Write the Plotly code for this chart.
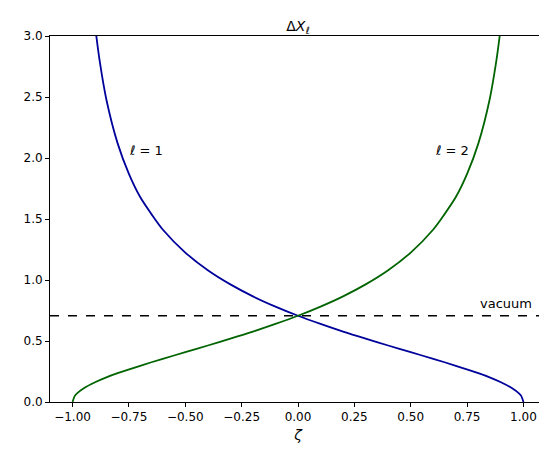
import plotly.graph_objects as go

zeta_blue = [-0.9, -0.88, -0.85, -0.8, -0.75, -0.7, -0.65, -0.6, -0.5, -0.4, -0.3, -0.2, -0.1, 0.0,
             0.1, 0.2, 0.3, 0.4, 0.5, 0.6, 0.7, 0.8, 0.85, 0.9, 0.95, 0.98, 0.99, 1.0]
dx_l1 = [3.08, 2.80, 2.48, 2.12, 1.87, 1.68, 1.54, 1.414, 1.225, 1.08, 0.964, 0.866, 0.782, 0.707,
         0.640, 0.577, 0.519, 0.463, 0.408, 0.354, 0.297, 0.236, 0.202, 0.162, 0.113, 0.071, 0.050, 0.0]
zeta_green = [-1.0, -0.99, -0.98, -0.95, -0.9, -0.85, -0.8, -0.7, -0.6, -0.5, -0.4, -0.3, -0.2,
              -0.1, 0.0, 0.1, 0.2, 0.3, 0.4, 0.5, 0.6, 0.65, 0.7, 0.75, 0.8, 0.85, 0.88, 0.9]
dx_l2 = [0.0, 0.050, 0.071, 0.113, 0.162, 0.202, 0.236, 0.297, 0.354, 0.408, 0.463, 0.519, 0.577,
         0.640, 0.707, 0.782, 0.866, 0.964, 1.08, 1.225, 1.414, 1.54, 1.68, 1.87, 2.12, 2.48, 2.80, 3.08]
vacuum = 0.707

fig = go.Figure()
fig.add_trace(go.Scatter(x=zeta_blue, y=dx_l1, mode="lines", line=dict(color="#00009b", width=1.8, shape="spline", smoothing=0.8)))
fig.add_trace(go.Scatter(x=zeta_green, y=dx_l2, mode="lines", line=dict(color="#006400", width=1.8, shape="spline", smoothing=0.8)))
fig.add_trace(go.Scatter(x=[-1.1, 1.1], y=[vacuum, vacuum], mode="lines", line=dict(color="black", width=1.6, dash="dash")))

ann = dict(showarrow=False, font=dict(size=13, color="black"), xanchor="left", yanchor="bottom")
fig.add_annotation(x=-0.76, y=1.98, text="<i>ℓ</i> = 1", **ann)
fig.add_annotation(x=0.6, y=1.98, text="<i>ℓ</i> = 2", **ann)
fig.add_annotation(x=0.8, y=0.73, text="vacuum", **ann)

axis = dict(showgrid=False, zeroline=False, showline=True, linecolor="black", mirror=True,
            ticks="outside", ticklen=4, tickcolor="black", tickfont=dict(size=12, color="black"))
fig.update_layout(
    width=547, height=460, showlegend=False, plot_bgcolor="white", paper_bgcolor="white",
    font=dict(family="DejaVu Sans", color="black"),
    margin=dict(l=42, r=9, t=28, b=66, autoexpand=False),
    title=dict(text="Δ<i>X</i><sub><i>ℓ</i></sub>", x=0.53, xanchor="center", y=0.96, yanchor="middle", font=dict(size=14)),
    xaxis=dict(range=[-1.1, 1.1], tickvals=[-1, -0.75, -0.5, -0.25, 0, 0.25, 0.5, 0.75, 1],
               ticktext=["−1.00", "−0.75", "−0.50", "−0.25", "0.00", "0.25", "0.50", "0.75", "1.00"],
               title=dict(text="<i>ζ</i>", font=dict(size=14), standoff=6), **axis),
    yaxis=dict(range=[0, 3], tickvals=[0, 0.5, 1, 1.5, 2, 2.5, 3],
               ticktext=["0.0", "0.5", "1.0", "1.5", "2.0", "2.5", "3.0"], **axis),
)
fig.write_html("out.html")
